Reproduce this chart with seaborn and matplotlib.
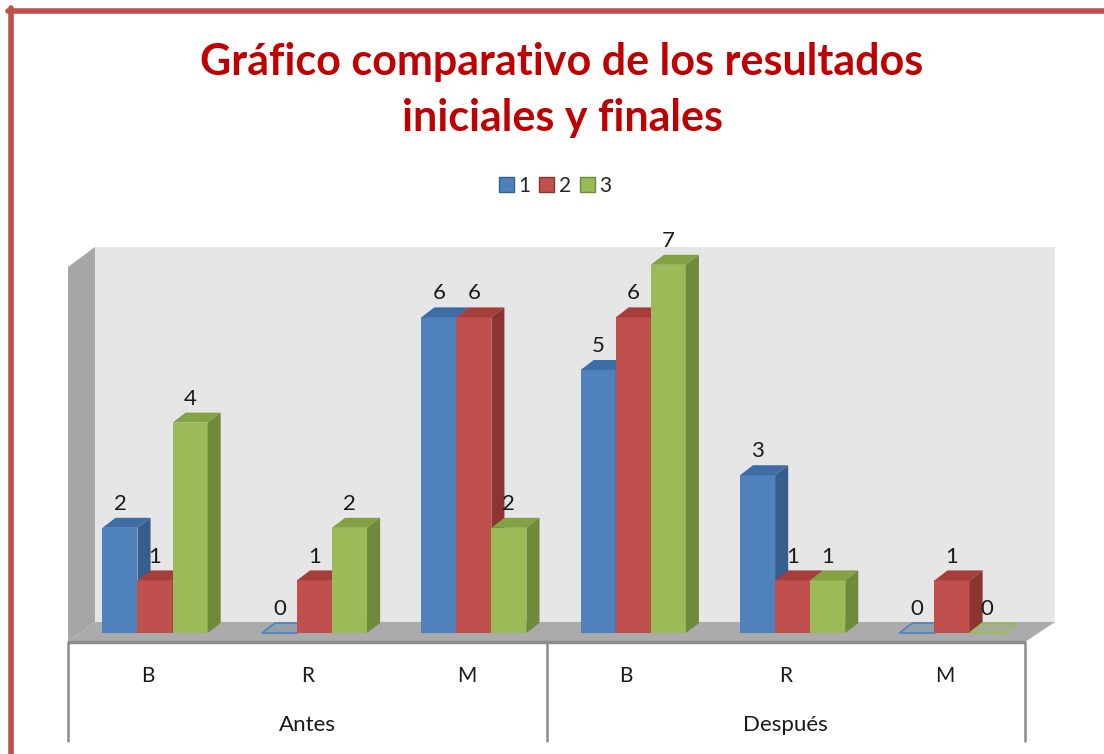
import matplotlib
matplotlib.use("Agg")
import matplotlib.pyplot as plt
from matplotlib.patches import Polygon, Patch
from matplotlib.lines import Line2D
import seaborn as sns
import pandas as pd

# datos del gráfico
categorias = ["B", "R", "M", "B", "R", "M"]
grupos = ["Antes", "Después"]
series = ["1", "2", "3"]
serie_1 = [2, 0, 6, 5, 3, 0]
serie_2 = [1, 1, 6, 6, 1, 1]
serie_3 = [4, 2, 2, 7, 1, 0]

frente = ["#4F81BD", "#C0504D", "#9BBB59"]
arriba = ["#3E6DA6", "#A63F3C", "#82A244"]
lado = ["#375D8C", "#8A3532", "#6E8A3A"]

posiciones = [f"{grupos[i // 3]} {c}" for i, c in enumerate(categorias)]
registros = []
for nombre, valores in zip(series, [serie_1, serie_2, serie_3]):
    for pos, v in zip(posiciones, valores):
        registros.append({"pos": pos, "serie": nombre, "valor": v})
df = pd.DataFrame(registros)

sns.set_theme(style="white")
plt.rcParams["font.family"] = ["Lato", "DejaVu Sans"]

fig = plt.figure(figsize=(11.04, 7.54), dpi=100)
W, H = 1104, 754
ax = fig.add_axes([68 / W, 1 - 642 / H, 987 / W, 395 / H])

# escala: pixel x = 155 + 159.4 * x ; pixel y = 633 - 52.6 * v
x_izq, x_der = -0.546, 5.646
y_abajo, y_arriba = -0.171, 7.338
fx_front_der = 5.458
prof_x, prof_y = 0.169, 0.38   # profundidad paredes
bx, by = 0.082, 0.19           # profundidad barras

# paredes y piso
ax.add_patch(Polygon([(x_izq + prof_x, y_abajo + prof_y), (x_der, y_abajo + prof_y),
                      (x_der, y_arriba), (x_izq + prof_x, y_arriba)],
                     closed=True, facecolor="#E6E6E6", edgecolor="none", zorder=0))
ax.add_patch(Polygon([(x_izq, y_abajo), (x_izq + prof_x, y_abajo + prof_y),
                      (x_izq + prof_x, y_arriba), (x_izq, y_arriba - prof_y)],
                     closed=True, facecolor="#A6A6A6", edgecolor="none", zorder=0))
ax.add_patch(Polygon([(x_izq, y_abajo), (fx_front_der, y_abajo),
                      (x_der, y_abajo + prof_y), (x_izq + prof_x, y_abajo + prof_y)],
                     closed=True, facecolor="#ABABAB", edgecolor="none", zorder=1))
ax.plot([x_izq, fx_front_der], [y_abajo, y_abajo], color="#8C8C8C", lw=2.5,
        zorder=1, clip_on=False, solid_capstyle="butt")

sns.barplot(data=df, x="pos", y="valor", hue="serie", order=posiciones,
            hue_order=series, palette=frente, width=0.66, linewidth=0,
            saturation=1, legend=False, ax=ax)

for k, cont in enumerate(ax.containers):
    for p in cont.patches:
        x0, w, h = p.get_x(), p.get_width(), p.get_height()
        p.set_zorder(3 + k)
        if h == 0:
            ax.add_patch(Polygon([(x0, 0), (x0 + bx, by), (x0 + w + bx, by), (x0 + w, 0)],
                                 closed=True, facecolor=frente[k], alpha=0.25,
                                 edgecolor="none", zorder=3 + k))
            ax.add_patch(Polygon([(x0, 0), (x0 + bx, by), (x0 + w + bx, by), (x0 + w, 0)],
                                 closed=True, facecolor="none", edgecolor=frente[k],
                                 lw=1.2, zorder=3 + k))
            continue
        ax.add_patch(Polygon([(x0, h), (x0 + bx, h + by), (x0 + w + bx, h + by), (x0 + w, h)],
                             closed=True, facecolor=arriba[k], edgecolor="none", zorder=3 + k))
        ax.add_patch(Polygon([(x0 + w, 0), (x0 + w + bx, by), (x0 + w + bx, h + by), (x0 + w, h)],
                             closed=True, facecolor=lado[k], edgecolor="none", zorder=3 + k))
    ax.bar_label(cont, fmt="%d", padding=10, fontsize=16, color="#1a1a1a", zorder=10)

ax.set_xlim(x_izq, x_der)
ax.set_ylim(y_abajo, y_arriba)
ax.set_xlabel("")
ax.set_ylabel("")
ax.set_yticks([])
ax.set_xticks([i - 0.045 for i in range(6)], categorias)
ax.tick_params(axis="x", length=0, pad=17, labelsize=15, labelcolor="#1a1a1a")
for s in ax.spines.values():
    s.set_visible(False)

# eje de categorías agrupado
y_fin = -2.05
for xv in [x_izq, 2.456, fx_front_der]:
    ax.plot([xv, xv], [y_abajo, y_fin], color="#8C8C8C", lw=1.8, clip_on=False, zorder=1)
ax.text(1 - 0.045, -1.75, grupos[0], ha="center", va="center", fontsize=16, color="#1a1a1a")
ax.text(4 - 0.045, -1.75, grupos[1], ha="center", va="center", fontsize=16, color="#1a1a1a")

# título y leyenda
fig.text(562 / W, 1 - 62 / H, "Gráfico comparativo de los resultados", ha="center",
         va="center", fontsize=31, fontweight="bold", color="#C00000")
fig.text(562 / W, 1 - 118 / H, "iniciales y finales", ha="center",
         va="center", fontsize=31, fontweight="bold", color="#C00000")

manijas = [Patch(facecolor=c, edgecolor=l, lw=1) for c, l in zip(frente, lado)]
fig.legend(manijas, series, loc="center", bbox_to_anchor=(555 / W, 1 - 186 / H), ncol=3,
           frameon=False, fontsize=15, handlelength=0.72, handleheight=0.72,
           handletextpad=0.2, columnspacing=0.45)

# marco rojo
fig.add_artist(Line2D([8 / W, 1], [1 - 10.5 / H, 1 - 10.5 / H], color="#C0504D", lw=4))
fig.add_artist(Line2D([10.5 / W, 10.5 / W], [0, 1 - 8 / H], color="#C0504D", lw=4))

fig.savefig("out.png", dpi=100)
